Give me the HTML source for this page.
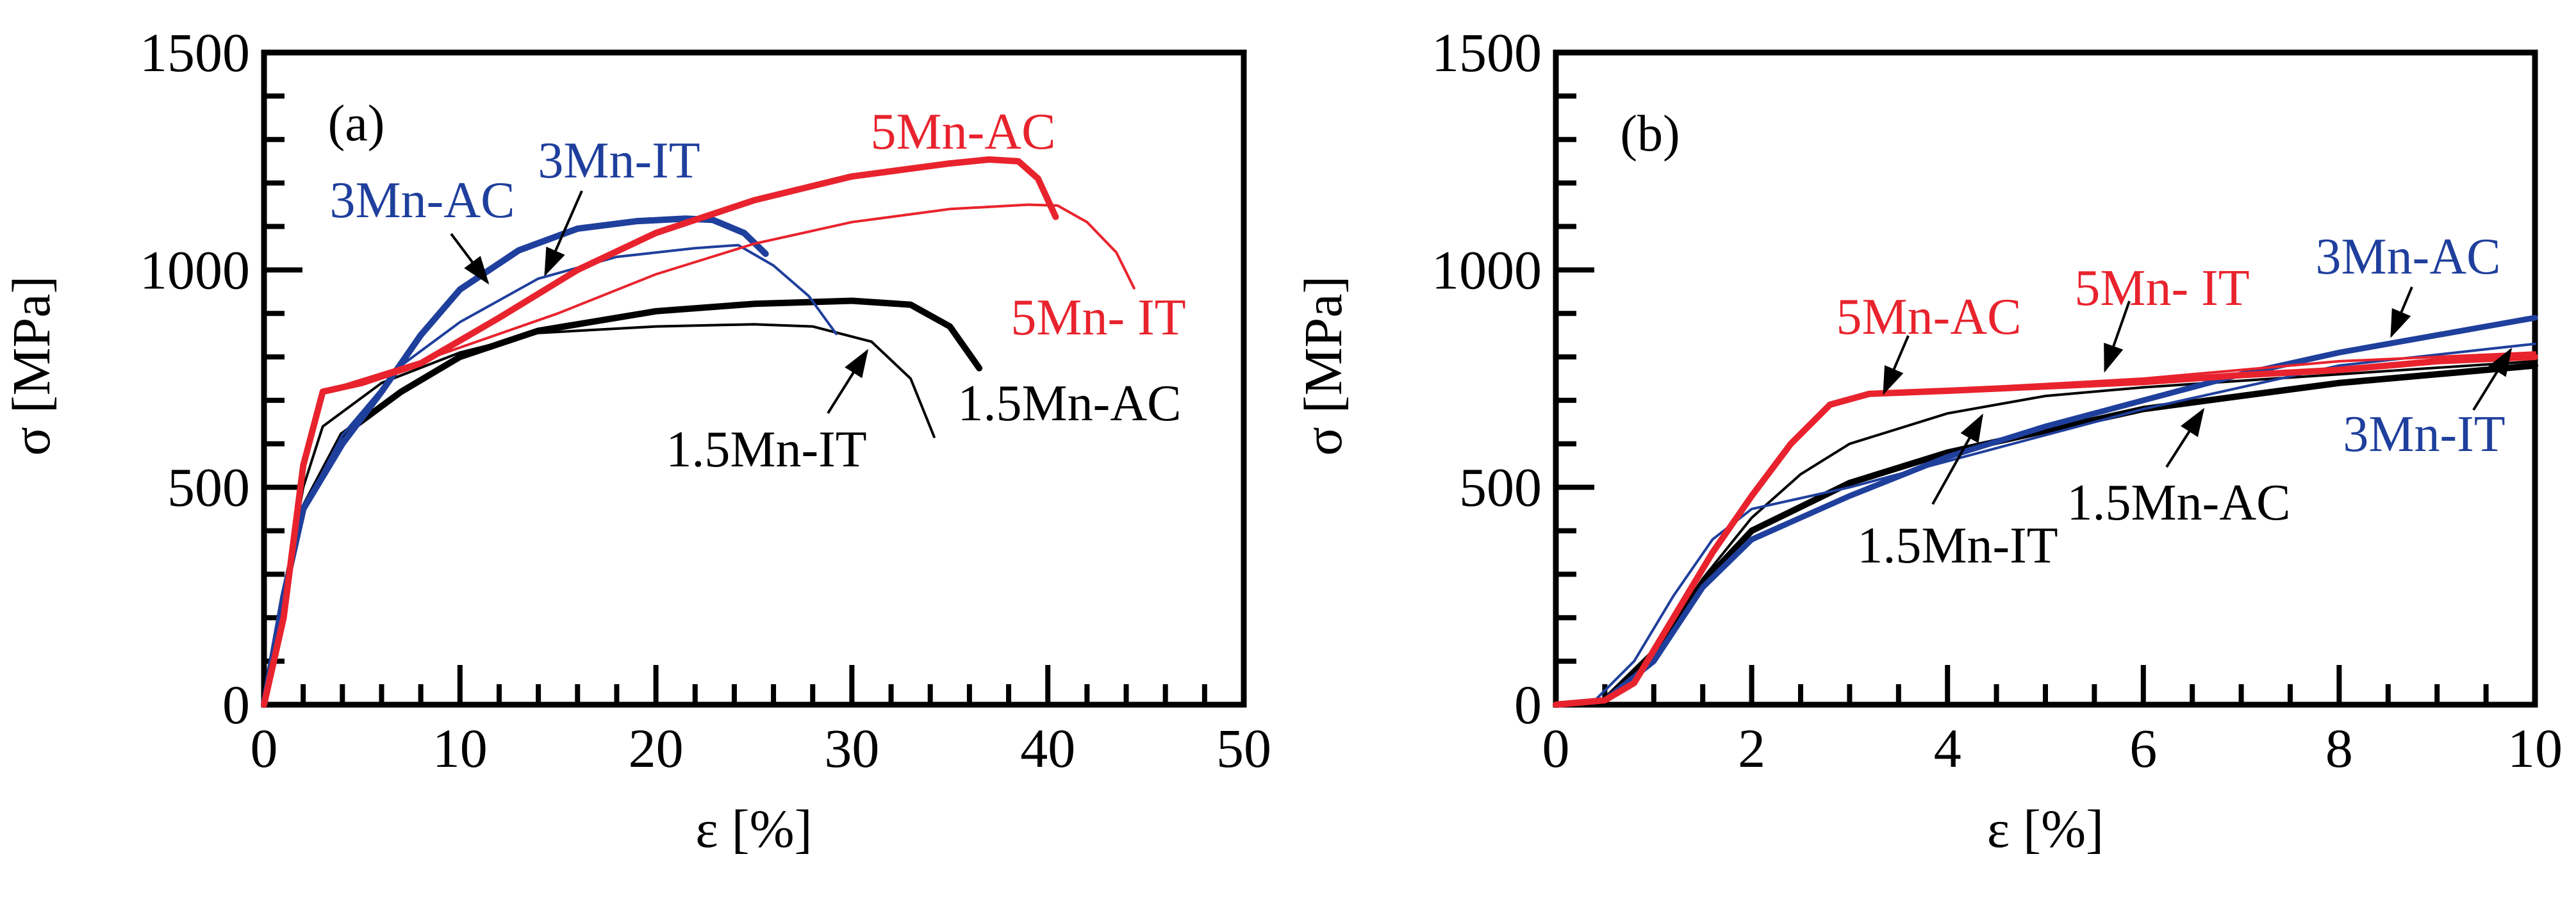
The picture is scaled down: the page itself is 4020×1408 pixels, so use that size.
<!DOCTYPE html>
<html><head><meta charset="utf-8"><style>
html,body{margin:0;padding:0;background:#fff;}
svg{display:block;font-family:"Liberation Serif",serif;}
</style></head><body>
<svg id="fig" width="4020" height="1408" viewBox="0 0 4020 1408">
<defs><marker id="ah" markerWidth="11" markerHeight="8" refX="10" refY="4" orient="auto" markerUnits="strokeWidth"><path d="M0,0 L11,4 L0,8 z" fill="#000"/></marker></defs>
</svg>
<script>
// ---- Data: panel (a) ----
const aX_5MnAC=[0,1,2,3,5,8,12,16,20,25,30,35,37,38.5,39.5,40.4];
const aY_5MnAC=[0,200,550,720,740,785,890,1000,1085,1160,1215,1245,1254,1250,1210,1122];
const aX_5MnIT=[0,1,2,3,8,15,20,25,30,35,39,40.5,42,43.5,44.4];
const aY_5MnIT=[0,200,550,720,790,900,990,1060,1110,1140,1150,1148,1110,1040,958];
const aX_3MnAC=[0,1,2,4,6,8,10,13,16,19,21.5,22.9,24.5,25.6];
const aY_3MnAC=[0,250,450,600,720,850,955,1045,1095,1112,1118,1115,1085,1037];
const aX_3MnIT=[0,1,2,4,7,10,14,18,22,24.2,26,27.8,29.2];
const aY_3MnIT=[0,250,450,620,780,880,980,1030,1050,1057,1010,940,853];
const aX_15AC=[0,1,2,4,7,10,14,20,25,30,33,35,36.5];
const aY_15AC=[0,250,450,620,720,800,860,905,922,929,920,870,774];
const aX_15IT=[0,1,2,3,6,10,14,20,25,28,31,33,34.2];
const aY_15IT=[0,250,500,640,740,810,855,870,875,870,835,750,616];
// ---- Data: panel (b) ----
const bX_5MnAC=[0,0.5,0.8,1.2,1.6,2,2.4,2.8,3.2,4,5,6,7,8,9,10];
const bY_5MnAC=[0,10,50,200,350,480,600,690,715,722,732,742,758,770,790,800];
const bX_5MnIT=[0,0.5,0.8,1.2,1.6,2,2.4,2.8,3.2,4,6,8,10];
const bY_5MnIT=[0,10,50,200,350,480,600,690,712,725,750,790,810];
const bX_3MnAC=[0,0.5,1,1.5,2,3,4,5,6,7,8,9,10];
const bY_3MnAC=[0,10,100,270,380,480,570,640,700,760,810,850,890];
const bX_3MnIT=[0,0.4,0.8,1.2,1.6,2,3,4,6,8,10];
const bY_3MnIT=[0,10,100,250,380,450,500,560,680,780,830];
const bX_15AC=[0,0.5,1,1.5,2,3,4,5,6,7,8,9,10];
const bY_15AC=[0,10,120,280,400,510,580,630,680,710,740,760,780];
const bX_15IT=[0,0.5,1,1.5,2,2.5,3,4,5,6,7,8,10];
const bY_15IT=[0,10,120,290,430,530,600,670,710,730,745,760,790];
const aXTicks=[0,10,20,30,40,50];
const bXTicks=[0,2,4,6,8,10];
const yTicks=[0,500,1000,1500];

const NS="http://www.w3.org/2000/svg";
const svg=document.getElementById('fig');
function mk(tag,attrs,parent){const e=document.createElementNS(NS,tag);for(const k in attrs)e.setAttribute(k,attrs[k]);(parent||svg).appendChild(e);return e;}

function panel(id,L,R,T,B,xmax,xTicks,minorStep){
  const g=mk('g',{});
  
  
  const sx=v=>L+(v/xmax)*(R-L), sy=v=>B-(v/1500)*(B-T);
  for(let v=0;v<=1500;v+=100){
    const len=(v%500===0)?60:32;
    const t=mk('line',{x1:L,x2:L+len,y1:sy(v),y2:sy(v),stroke:'#000','stroke-width':8},g);
    
    
  }
  const n=Math.round(xmax/minorStep);
  for(let i=0;i<=n;i++){
    const v=i*minorStep;const major=xTicks.some(t=>Math.abs(t-v)<1e-6);
    const len=major?62:32;
    const t=mk('line',{x1:sx(v),x2:sx(v),y1:B,y2:B-len,stroke:'#000','stroke-width':8},g);
    
    
  }
  yTicks.forEach(v=>{const t=mk('text',{x:L-22,y:sy(v)+29,'font-size':86,'text-anchor':'end'},g);t.textContent=v;
    
    });
  xTicks.forEach(v=>{const t=mk('text',{x:sx(v),y:B+97,'font-size':86,'text-anchor':'middle'},g);t.textContent=v;
    
    });
  const fr=mk('rect',{x:L,y:T,width:R-L,height:B-T,fill:'none',stroke:'#000','stroke-width':9},g);
  
  
  const xl=mk('text',{x:(L+R)/2,y:B+222,'font-size':84,'text-anchor':'middle'},g);xl.textContent='ε [%]';
  
  
  const cx=L-335, cy=(T+B)/2-20;
  const yl=mk('text',{x:cx,y:cy,'font-size':84,'text-anchor':'middle',transform:`rotate(-90 ${cx} ${cy})`},g);yl.textContent='σ [MPa]';
  
  
  return {g,sx,sy};
}
function curve(p,xs,ys,color,w,name){
  const d=xs.map((x,i)=>(i?'L':'M')+p.sx(x).toFixed(1)+','+p.sy(ys[i]).toFixed(1)).join(' ');
  const e=mk('path',{d,fill:'none',stroke:color,'stroke-width':w,'stroke-linejoin':'round','stroke-linecap':'round'},p.g);
  
  
}
function label(p,x,y,txt,color,name){
  const t=mk('text',{x,y:y+28,'font-size':80,fill:color,'text-anchor':'middle'},p.g);t.textContent=txt;
  
  
}
function arrow(p,x1,y1,x2,y2,name){
  const e=mk('line',{x1,y1,x2,y2,stroke:'#000','stroke-width':4,'marker-end':'url(#ah)'},p.g);
  
  
}
const RED='#e8232d',BLUE='#1f3f9c';
const A=panel('a',412,1941,82,1100,50,aXTicks,2);
curve(A,aX_15IT,aY_15IT,'#000',4,'curve-1.5Mn-IT');
curve(A,aX_15AC,aY_15AC,'#000',10,'curve-1.5Mn-AC');
curve(A,aX_3MnIT,aY_3MnIT,BLUE,4,'curve-3Mn-IT');
curve(A,aX_3MnAC,aY_3MnAC,BLUE,10,'curve-3Mn-AC');
curve(A,aX_5MnIT,aY_5MnIT,RED,4,'curve-5Mn-IT');
curve(A,aX_5MnAC,aY_5MnAC,RED,10,'curve-5Mn-AC');
label(A,556,191,'(a)','#000','panel-label-a');
label(A,659,311,'3Mn-AC',BLUE,'label-3Mn-AC');
label(A,966,249,'3Mn-IT',BLUE,'label-3Mn-IT');
label(A,1503,204,'5Mn-AC',RED,'label-5Mn-AC');
label(A,1714,494,'5Mn- IT',RED,'label-5Mn-IT');
label(A,1669,628,'1.5Mn-AC','#000','label-1.5Mn-AC');
label(A,1196,700,'1.5Mn-IT','#000','label-1.5Mn-IT');
arrow(A,704,365,761,441,'arrow-3Mn-AC');
arrow(A,908,298,851,428,'arrow-3Mn-IT');
arrow(A,1292,645,1353,548,'arrow-1.5Mn-IT');
const Bp=panel('b',2428,3956,82,1100,10,bXTicks,0.5);
curve(Bp,bX_15IT,bY_15IT,'#000',4,'curve-1.5Mn-IT');
curve(Bp,bX_15AC,bY_15AC,'#000',10,'curve-1.5Mn-AC');
curve(Bp,bX_3MnIT,bY_3MnIT,BLUE,4,'curve-3Mn-IT');
curve(Bp,bX_3MnAC,bY_3MnAC,BLUE,9,'curve-3Mn-AC');
curve(Bp,bX_5MnIT,bY_5MnIT,RED,4,'curve-5Mn-IT');
curve(Bp,bX_5MnAC,bY_5MnAC,RED,10,'curve-5Mn-AC');
label(Bp,2575,207,'(b)','#000','panel-label-b');
label(Bp,3010,493,'5Mn-AC',RED,'label-5Mn-AC');
label(Bp,3374,448,'5Mn- IT',RED,'label-5Mn-IT');
label(Bp,3758,399,'3Mn-AC',BLUE,'label-3Mn-AC');
label(Bp,3783,676,'3Mn-IT',BLUE,'label-3Mn-IT');
label(Bp,3400,783,'1.5Mn-AC','#000','label-1.5Mn-AC');
label(Bp,3055,850,'1.5Mn-IT','#000','label-1.5Mn-IT');
arrow(Bp,2978,524,2940,613,'arrow-5Mn-AC');
arrow(Bp,3323,470,3285,578,'arrow-5Mn-IT');
arrow(Bp,3764,448,3732,524,'arrow-3Mn-AC');
arrow(Bp,3860,640,3918,546,'arrow-3Mn-IT');
arrow(Bp,3381,729,3438,640,'arrow-1.5Mn-AC');
arrow(Bp,3016,787,3093,649,'arrow-1.5Mn-IT');
</script>
</body></html>
